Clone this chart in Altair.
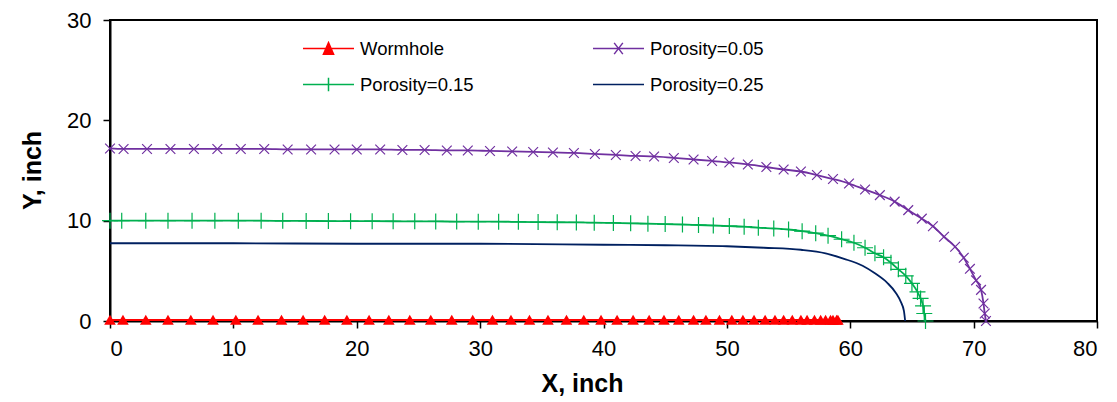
import altair as alt
import pandas as pd

series_names = ["Wormhole", "Porosity=0.05", "Porosity=0.15", "Porosity=0.25"]
series_colors = ["#FF0000", "#7030A0", "#00B050", "#002060"]
# legend entries are laid out column by column: this order puts
# Wormhole / Porosity=0.05 on the first row and 0.15 / 0.25 on the second
legend_order = ["Wormhole", "Porosity=0.15", "Porosity=0.05", "Porosity=0.25"]
legend_colors = ["#FF0000", "#00B050", "#7030A0", "#002060"]

wormhole_x = [0, 1.05, 2.9, 4.7, 6.55, 8.35, 10.2, 12.0, 13.9, 15.65, 17.4, 19.2, 21.0, 22.6,
              24.3, 26.0, 27.7, 29.4, 31.0, 32.5, 34.0, 35.5, 37.0, 38.4, 39.8, 41.1, 42.4, 43.7,
              44.9, 46.1, 47.3, 48.3, 49.4, 50.4, 51.3, 52.2, 53.1, 53.9, 54.6, 55.3, 56.0, 56.5,
              57.1, 57.6, 58.0, 58.4, 58.6, 58.9, 59.0]
wormhole_y = [0.1, 0.1, 0.1, 0.1, 0.1, 0.1, 0.1, 0.1, 0.1, 0.1, 0.1, 0.1, 0.1, 0.1,
              0.1, 0.1, 0.1, 0.1, 0.1, 0.1, 0.1, 0.1, 0.1, 0.1, 0.1, 0.1, 0.1, 0.1,
              0.1, 0.1, 0.1, 0.1, 0.1, 0.1, 0.1, 0.1, 0.1, 0.1, 0.1, 0.1, 0.1, 0.1,
              0.1, 0.1, 0.1, 0.1, 0.1, 0.1, 0.1]

p05_x = [0, 1.1, 3.0, 4.9, 6.8, 8.7, 10.6, 12.5, 14.4, 16.3, 18.2, 20.0, 21.9, 23.7, 25.5,
         27.3, 29.0, 30.8, 32.6, 34.3, 35.9, 37.6, 39.3, 41.0, 42.6, 44.1, 45.7, 47.3, 48.8,
         50.2, 51.7, 53.2, 54.6, 56.0, 57.3, 58.6, 59.9, 61.2, 62.4, 63.6, 64.7, 65.8, 66.7,
         67.6, 68.5, 69.2, 69.7, 70.2, 70.6, 70.8, 70.9, 71.0]
p05_y = [17.2, 17.15, 17.15, 17.15, 17.15, 17.15, 17.15, 17.15, 17.1, 17.1, 17.1, 17.1, 17.1,
         17.05, 17.05, 17.0, 17.0, 16.95, 16.9, 16.85, 16.8, 16.75, 16.65, 16.55, 16.45, 16.4,
         16.25, 16.1, 15.95, 15.8, 15.6, 15.35, 15.1, 14.9, 14.55, 14.15, 13.7, 13.1, 12.55,
         11.9, 11.05, 10.2, 9.45, 8.4, 7.4, 6.3, 5.2, 4.05, 3.1, 1.75, 0.75, 0.0]

p15_x = [0, 0.95, 2.9, 4.7, 6.65, 8.5, 10.4, 12.25, 14.0, 15.9, 17.7, 19.5, 21.25, 22.95,
         24.7, 26.4, 28.1, 29.85, 31.5, 33.1, 34.7, 36.25, 37.8, 39.25, 40.8, 42.2, 43.6, 45.0,
         46.4, 47.7, 48.9, 50.2, 51.4, 52.55, 53.8, 55.0, 56.1, 57.2, 58.2, 59.3, 60.3, 61.2,
         62.0, 62.7, 63.3, 63.9, 64.5, 65.0, 65.45, 65.7, 65.9, 66.0, 66.1]
p15_y = [10.0, 10.0, 10.0, 10.0, 10.0, 10.0, 10.0, 10.0, 9.98, 9.97, 9.96, 9.95, 9.95, 9.94,
         9.93, 9.92, 9.91, 9.9, 9.9, 9.88, 9.86, 9.84, 9.82, 9.8, 9.77, 9.74, 9.7, 9.66,
         9.62, 9.57, 9.52, 9.46, 9.4, 9.3, 9.22, 9.12, 8.95, 8.75, 8.5, 8.15, 7.8, 7.3,
         6.75, 6.35, 5.8, 5.15, 4.5, 3.75, 2.9, 2.25, 1.5, 0.75, 0.0]

p25_x = [0, 10, 20, 30, 40, 45, 50, 53, 56, 58, 59.5, 61, 62, 63, 63.7, 64.1, 64.35, 64.45]
p25_y = [7.75, 7.75, 7.7, 7.7, 7.6, 7.55, 7.45, 7.3, 7.1, 6.75, 6.2, 5.5, 4.75, 3.8, 2.8,
         1.9, 1.0, 0.0]

x_ticks = [0, 10, 20, 30, 40, 50, 60, 70, 80]
y_ticks = [0, 10, 20, 30]

frames = []
for name, xs, ys in [("Wormhole", wormhole_x, wormhole_y),
                     ("Porosity=0.05", p05_x, p05_y),
                     ("Porosity=0.15", p15_x, p15_y),
                     ("Porosity=0.25", p25_x, p25_y)]:
    frames.append(pd.DataFrame({"x": xs, "y": ys, "series": name}))
df = pd.concat(frames, ignore_index=True)

FONT = "Liberation Sans"

x_enc = alt.X("x:Q", scale=alt.Scale(domain=[0, 80], nice=False, zero=False),
              axis=alt.Axis(values=x_ticks, title="X, inch", grid=False, tickSize=7,
                            labelPadding=10, titleX=472, titleY=62, titleBaseline="middle",
                            titleAlign="center"))
y_enc = alt.Y("y:Q", scale=alt.Scale(domain=[0, 30], nice=False, zero=False),
              axis=alt.Axis(values=y_ticks, title="Y, inch", grid=False, tickSize=7,
                            labelPadding=12, titleX=-78, titleY=150, titleBaseline="middle",
                            titleAlign="center", titleAngle=270))

base = alt.Chart(df)

line_layers = []
for name, col in zip(series_names, series_colors):
    enc_x = x_enc if name == series_names[0] else "x:Q"
    enc_y = y_enc if name == series_names[0] else "y:Q"
    line_layers.append(
        base.transform_filter(alt.datum.series == name)
        .mark_line(strokeWidth=1.8, interpolate="monotone", color=col)
        .encode(x=enc_x, y=enc_y)
    )

tri = base.transform_filter(alt.datum.series == "Wormhole").mark_point(
    shape="M0,-0.9L1,0.8L-1,0.8Z", filled=True, color="#FF0000", size=135, opacity=1
).encode(x="x:Q", y="y:Q")

xmark = base.transform_filter(alt.datum.series == "Porosity=0.05").mark_point(
    shape="M-1,-1L1,1M-1,1L1,-1", filled=False, color="#7030A0", size=95, strokeWidth=1.2,
    opacity=1
).encode(x="x:Q", y="y:Q")

pmark = base.transform_filter(alt.datum.series == "Porosity=0.15").mark_point(
    shape="M0,-1V1M-1,0H1", filled=False, color="#00B050", size=256, strokeWidth=1.2,
    opacity=1
).encode(x="x:Q", y="y:Q")

legend_shapes = [
    "M-1,0H1M0,-0.23L0.2,0.23L-0.2,0.23Z",
    "M-1,0H1M0,-0.26V0.26",
    "M-1,0H1M-0.17,-0.22L0.17,0.22M-0.17,0.22L0.17,-0.22",
    "M-1,0H1",
]

legend_layer = base.mark_point(
    size=0, filled=False, fill="#FF0000", strokeWidth=1.5
).encode(
    x="x:Q", y="y:Q",
    color=alt.Color("series:N", scale=alt.Scale(domain=legend_order, range=legend_colors),
                    legend=alt.Legend(title=None)),
    shape=alt.Shape("series:N", scale=alt.Scale(domain=legend_order, range=legend_shapes),
                    legend=alt.Legend(title=None)),
)

chart = alt.layer(*line_layers, tri, xmark, pmark, legend_layer).properties(
    width=987, height=301,
    autosize=alt.AutoSizeParams(type="none"),
    padding={"left": 110, "top": 20, "right": 20, "bottom": 81},
).configure_view(
    stroke="black", strokeWidth=2
).configure_axis(
    domainColor="black", domainWidth=2, tickColor="black", tickWidth=1.5,
    labelFont=FONT, labelFontSize=22, labelColor="black",
    titleFont=FONT, titleFontSize=25, titleFontWeight="bold", titleColor="black",
).configure_legend(
    orient="none", legendX=192, legendY=2, columns=2, direction="vertical",
    symbolSize=2601, symbolStrokeWidth=1.5, symbolOpacity=1,
    labelFont=FONT, labelFontSize=18.5, labelColor="black", labelOffset=5,
    columnPadding=116, rowPadding=-3, padding=0,
)

chart.save("out.html", embed_options={"renderer": "svg", "actions": False})
